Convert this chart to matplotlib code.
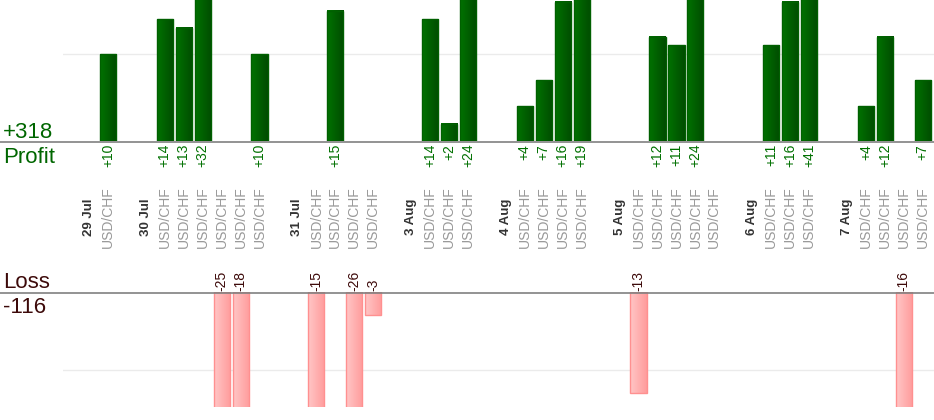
import matplotlib
matplotlib.use("Agg")
import matplotlib.pyplot as plt
import numpy as np
from matplotlib.colors import LinearSegmentedColormap
from matplotlib.transforms import blended_transform_factory

plt.rcParams["font.family"] = ["Liberation Sans", "DejaVu Sans"]

# ---- data -------------------------------------------------------------------
days = ["29 Jul", "30 Jul", "31 Jul", "3 Aug", "4 Aug", "5 Aug", "6 Aug", "7 Aug"]
trades_per_day = [1, 6, 4, 3, 4, 5, 3, 4]
symbol = "USD/CHF"
pnl = [10,
       14, 13, 32, -25, -18, 10,
       -15, 15, -26, -3,
       14, 2, 24,
       4, 7, 16, 19,
       -13, 12, 11, 24, 0,
       11, 16, 41,
       4, 12, -16, 7]
total_profit = "+318"
total_loss = "-116"

# ---- slot layout: gap, date, trades... --------------------------------------
date_pos, trade_pos = [], []
pos = 0
for i, n in enumerate(trades_per_day):
    if i:
        pos += 1
    date_pos.append(pos)
    pos += 1
    trade_pos.extend(range(pos, pos + n))
    pos += n

W, H = 934, 420
fig = plt.figure(figsize=(W / 100, H / 100), dpi=100)
xl = ((63 - 89) / 18.95, (934 - 89) / 18.95)
ax_p = fig.add_axes([63 / W, 1 - 141 / H, 871 / W, 141 / H])
ax_l = fig.add_axes([63 / W, 1 - 407 / H, 871 / W, (407 - 292) / H])

green = LinearSegmentedColormap.from_list("g", ["#007200", "#004c00"])
pink = LinearSegmentedColormap.from_list("p", ["#ffc6c6", "#ff9c9c"])
grad = np.linspace(0, 1, 32).reshape(1, -1)
bw = 0.85

for x, v in zip(trade_pos, pnl):
    if v > 0:
        ax_p.imshow(grad, cmap=green, extent=[x - bw / 2, x + bw / 2, 0, v],
                    aspect="auto", zorder=3)
        ax_p.add_patch(plt.Rectangle((x - bw / 2, 0), bw, v, fill=False,
                                     ec="#006000", lw=1, zorder=4))
        ax_p.annotate(f"+{v}", (x, 0), xytext=(0, -2), textcoords="offset points",
                      rotation=90, ha="center", va="top", fontsize=10,
                      color="#007000", annotation_clip=False)
    elif v < 0:
        ax_l.imshow(grad, cmap=pink, extent=[x - bw / 2, x + bw / 2, v, 0],
                    aspect="auto", zorder=3)
        ax_l.add_patch(plt.Rectangle((x - bw / 2, v), bw, -v, fill=False,
                                     ec="#ff9090", lw=1, zorder=4))
        ax_l.annotate(f"{v}", (x, 0), xytext=(0, 1), textcoords="offset points",
                      rotation=90, ha="center", va="bottom", fontsize=10,
                      color="#3d0a0a", annotation_clip=False)

ax_p.set_xlim(*xl)
ax_p.set_ylim(0, 141 / 8.7)
ax_l.set_xlim(*xl)
ax_l.set_ylim(-115 / 7.8, 0)

for ax in (ax_p, ax_l):
    ax.set_axis_off()
ax_p.axhline(10, color="#ebebeb", lw=1, zorder=1)
ax_l.axhline(-10, color="#ebebeb", lw=1, zorder=1)

# baselines span the whole width
fig.add_artist(plt.Line2D([0, 1], [1 - 141.5 / H] * 2, color="#808080", lw=1.2))
fig.add_artist(plt.Line2D([0, 1], [1 - 292.5 / H] * 2, color="#808080", lw=1.2))

# category labels
tr = blended_transform_factory(ax_p.transData, fig.transFigure)
ylab = 1 - 217 / H
for x, d in zip(date_pos, days):
    ax_p.text(x, ylab, d, transform=tr, rotation=90, ha="center", va="center",
              fontsize=9.5, fontweight="bold", color="#333333", clip_on=False)
for x in trade_pos:
    ax_p.text(x, ylab, symbol, transform=tr, rotation=90, ha="center",
              va="center", fontsize=10, color="#999999", clip_on=False)

# totals
fig.text(3 / W, 1 - 138 / H, total_profit, fontsize=16, color="#006600",
         ha="left", va="baseline")
fig.text(3 / W, 1 - 163 / H, "Profit", fontsize=16, color="#006600",
         ha="left", va="baseline")
fig.text(3 / W, 1 - 288 / H, "Loss", fontsize=16, color="#3d0a0a",
         ha="left", va="baseline")
fig.text(3 / W, 1 - 313 / H, total_loss, fontsize=16, color="#3d0a0a",
         ha="left", va="baseline")

fig.savefig("out.png", dpi=100)
